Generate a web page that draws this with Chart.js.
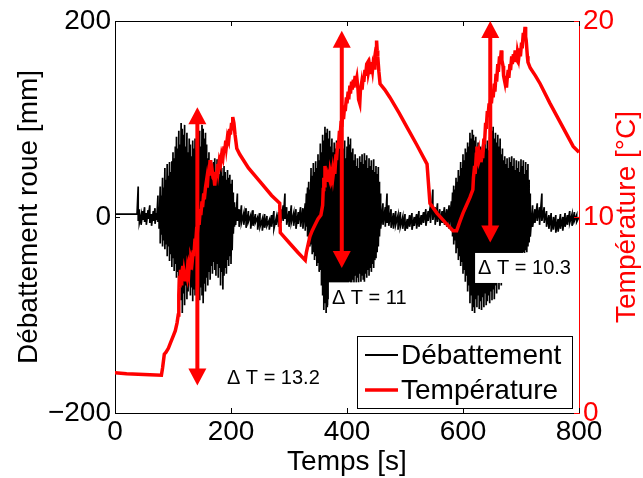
<!DOCTYPE html>
<html><head><meta charset="utf-8">
<script src="https://cdn.jsdelivr.net/npm/chart.js@4/dist/chart.umd.min.js"></script>
<style>html,body{margin:0;padding:0;background:#fff;}canvas{display:block;}</style>
</head><body>
<canvas id="c" width="643" height="478"></canvas>
<script>
// ---- Débattement (wheel travel, mm): time [s] with upper / lower extremes of the vibration ----
const debTime = [
  0,38,40,42,45,48,51,54,57,60,63,66,69,72,74,76,
  78,80,82,84,86,88,90,92,94,96,98,100,102,104,106,108,110,112,114,116,
  118,120,122,124,126,128,130,132,134,136,138,140,142,144,146,148,150,152,154,156,
  158,160,162,164,166,168,170,172,174,176,178,180,182,184,186,188,190,192,194,196,
  198,200,202,204,206,
  208,211,214,218,222,226,230,234,238,242,246,250,254,258,262,266,270,274,278,282,
  286,290,293,296,300,304,308,312,316,320,324,328,
  330,332,334,336,338,340,342,344,346,348,350,352,354,356,358,360,362,364,366,368,
  370,372,374,376,378,380,382,384,386,388,390,392,394,396,398,400,402,404,406,408,
  410,412,414,416,418,420,422,424,426,428,430,432,434,436,438,440,442,444,446,448,
  450,452,454,456,458,
  462,466,469,472,476,480,484,488,492,496,500,504,508,512,516,520,524,528,532,536,
  540,544,548,552,556,560,564,568,572,576,580,
  582,584,586,588,590,592,594,596,598,600,602,604,606,608,610,612,614,616,618,620,
  622,624,626,628,630,632,634,636,638,640,642,644,646,648,650,652,654,656,658,660,
  662,664,666,668,670,672,674,676,678,680,682,684,686,688,690,692,694,696,698,700,
  702,704,706,708,710,712,714,716,
  720,724,728,732,736,740,744,748,752,756,760,764,768,772,776,780,784,788,792,796,800
];
const debHigh = [
  3,3,31,8,2,6,10,4,7,12,3,6,9,4,22,10,
  31,22,40,30,50,38,54,42,56,46,57,66,60,72,82,70,88,74,96,90,
  84,94,72,86,66,80,74,62,78,70,80,68,84,76,88,72,94,90,80,86,
  74,60,66,52,58,48,56,60,46,59,54,44,56,50,42,52,46,38,48,40,
  43,34,38,25,15,
  10,24,8,12,4,9,6,2,7,3,0,4,-2,3,1,-3,2,6,-1,5,
  8,12,24,10,6,12,4,8,5,10,9,14,
  24,30,36,28,50,42,55,46,57,50,64,58,75,66,84,78,92,86,90,80,
  88,72,80,66,76,70,78,64,75,70,74,62,70,78,60,72,82,74,80,66,
  70,58,64,52,60,50,62,56,64,54,65,58,63,50,60,52,58,48,59,46,
  52,44,51,36,24,
  14,10,24,12,8,4,6,2,5,0,3,-2,2,4,0,3,6,2,5,8,
  6,12,28,10,14,8,6,10,8,12,16,
  25,32,28,40,36,48,42,56,50,64,58,70,66,76,72,86,80,89,84,78,
  82,70,76,64,72,60,74,66,78,70,78,68,82,74,88,92,80,86,76,84,
  72,80,64,70,58,62,54,60,50,61,56,62,52,60,48,58,50,57,46,59,
  52,58,44,56,48,54,38,24,
  12,8,14,10,24,10,6,2,4,0,2,-2,3,0,4,2,6,3,5,2,0
];
const debLow = [
  3,3,-4,-6,-8,-3,-5,-8,-2,-6,-9,-4,-7,-3,-5,-12,
  -27,-18,-30,-24,-33,-28,-40,-30,-45,-38,-51,-42,-55,-48,-62,-56,-72,-64,-85,-98,
  -78,-90,-70,-84,-76,-66,-80,-72,-86,-74,-80,-70,-82,-76,-85,-72,-80,-88,-68,-76,
  -62,-70,-56,-64,-50,-58,-46,-54,-60,-48,-62,-52,-70,-56,-74,-60,-52,-58,-44,-50,
  -40,-48,-34,-17,-10,
  -8,-4,-10,-6,-8,-11,-5,-12,-9,-6,-13,-10,-14,-11,-9,-13,-10,-12,-8,-10,
  -6,-4,-2,-8,-10,-6,-9,-12,-7,-10,-12,-14,
  -10,-20,-22,-30,-28,-38,-36,-44,-40,-50,-47,-56,-54,-70,-80,-95,-88,-98,-92,-84,
  -90,-78,-84,-74,-82,-76,-80,-70,-78,-72,-76,-82,-70,-76,-68,-74,-72,-66,-70,-74,
  -64,-70,-60,-68,-62,-67,-58,-66,-60,-64,-66,-58,-62,-54,-60,-52,-56,-48,-52,-44,
  -42,-36,-30,-20,-12,
  -8,-10,-6,-9,-11,-12,-8,-13,-10,-12,-14,-12,-10,-13,-9,-12,-10,-8,-6,-9,
  -4,-6,-3,-8,-5,-9,-6,-8,-10,-12,-14,
  -20,-28,-24,-37,-32,-44,-40,-50,-46,-58,-54,-66,-60,-76,-70,-88,-80,-96,-92,-98,
  -84,-92,-80,-94,-86,-95,-82,-92,-78,-90,-86,-80,-88,-76,-85,-74,-84,-70,-78,-66,
  -74,-64,-70,-60,-66,-58,-62,-54,-60,-50,-58,-52,-56,-48,-54,-44,-50,-40,-46,-38,
  -42,-36,-40,-34,-36,-30,-26,-20,
  -10,-6,-4,-8,-4,-6,-10,-12,-15,-13,-16,-15,-12,-14,-10,-8,-6,-9,-4,-5,0
];

// ---- Température (°C) ----
const tempTime = [
  0,20,40,60,80,82,85,88,92,96,100,104,107,
  109,110,111,112,113,114,115,117,118,119,121,122,124,125,127,128,130,131,133,135,
  136,138,139,141,142,144,145,147,148,150,151,153,154,156,158,159,161,162,164,165,
  167,169,171,172,174,175,177,178,180,182,184,186,188,189,191,192,194,196,198,199,
  201,202,203,205,207,
  210,215,230,250,270,284,285,300,315,328,330,333,336,340,345,350,355,
  358,359,360,361,362,364,365,367,368,370,371,373,375,376,378,379,381,382,384,385,
  387,388,390,391,393,394,396,397,399,400,402,403,405,406,408,409,411,412,414,415,
  417,419,420,422,423,425,426,428,429,431,432,434,436,437,439,441,442,444,445,447,
  448,450,451,452,453,455,457,
  465,474,490,505,520,538,543,555,570,583,589,595,600,606,612,
  617,618,620,621,623,624,625,627,628,630,631,633,634,636,637,639,640,642,643,645,
  646,648,649,651,652,654,655,657,658,660,661,663,664,666,667,669,670,672,673,675,
  676,678,679,681,682,684,685,687,688,690,691,693,694,696,698,699,701,702,704,705,
  707,708,709,711,712,716,
  725,733,750,770,790,800
];
const tempValues = [
  2.05,2.0,1.98,1.95,1.93,2.3,3.0,3.1,3.3,3.6,3.9,4.2,4.6,
  5.0,6.0,7.0,6.4,7.3,6.6,7.1,7.5,6.9,7.2,6.8,7.3,7.0,7.4,7.1,7.6,7.4,7.9,7.7,8.3,
  8.0,8.9,8.6,9.5,9.2,9.9,9.6,10.4,10.1,10.8,10.5,11.2,10.9,11.5,11.9,11.5,12.4,12.1,12.9,12.4,
  12.5,12.0,11.9,11.6,12.3,12.0,12.7,12.4,12.9,12.7,13.2,13.0,13.6,13.3,13.9,13.6,14.1,13.9,14.5,14.2,
  14.8,14.5,15.1,14.8,14.2,
  13.5,13.2,12.5,11.8,11.1,10.7,9.2,8.7,8.2,7.8,8.2,8.6,9.0,9.3,9.6,9.9,10.1,
  10.6,11.4,12.0,11.6,12.6,12.0,12.4,11.8,12.1,11.9,12.3,12.0,12.4,12.1,12.6,12.2,13.2,12.9,13.8,13.5,
  14.4,14.1,14.9,14.6,15.4,15.0,15.7,15.4,16.1,15.8,16.4,16.0,16.7,16.3,16.9,16.5,17.0,16.6,17.2,16.8,
  17.1,16.5,16.0,15.8,16.4,16.8,16.5,17.2,16.9,17.5,17.2,17.8,17.9,17.4,17.7,17.3,17.9,17.5,17.8,17.6,
  18.2,18.6,19.0,18.5,18.2,17.4,16.8,
  16.5,16.1,15.3,14.5,13.7,12.7,10.7,10.2,9.7,9.3,9.3,9.8,10.2,10.6,11.0,
  11.4,12.0,12.6,12.2,13.2,13.6,13.0,13.3,12.9,13.1,12.8,13.2,13.0,14.0,13.7,14.8,14.5,15.4,15.1,15.8,
  15.5,16.1,15.8,16.5,16.1,16.8,16.4,17.3,16.9,17.8,17.4,18.2,17.8,18.5,18.0,17.7,17.2,16.9,17.2,16.6,
  17.0,17.5,17.1,17.8,17.5,18.2,17.8,18.3,17.9,18.5,18.1,18.0,18.4,18.1,18.6,18.2,18.9,18.6,19.4,19.0,
  19.7,19.2,19.0,18.2,17.9,17.6,
  17.2,16.8,15.8,14.7,13.6,13.3
];

// ---- ΔT arrows (time, low / high temperature) and their labels ----
const arrowTime = [142, 391, 647];
const arrowLow  = [1.4, 7.4, 8.7];
const arrowHigh = [15.6, 19.5, 20.0];
const dtLabels    = ['\u0394 T = 13.2', '\u0394 T = 11', '\u0394 T = 10.3'];
const dtLabelTime = [193, 374, 626];
const dtLabelTemp = [1.8, 5.9, 7.4];

const xTicks = [0, 200, 400, 600, 800];
const yTicks = [-200, 0, 200];
const tTicks = [0, 10, 20];

const FONT = "'Liberation Sans', Arial, Helvetica, sans-serif";

const debPoints = [];
debTime.forEach((t, i) => {
  debPoints.push({x: t, y: debHigh[i]});
  if (debLow[i] !== debHigh[i]) debPoints.push({x: t, y: debLow[i]});
});
const tempPoints = tempTime.map((t, i) => ({x: t, y: tempValues[i]}));

const overlay = {
  id: 'overlay',
  afterDraw(chart) {
    const {ctx, chartArea: a, scales} = chart;
    const xs = scales.x, ys = scales.y, ts = scales.yT;
    ctx.save();
    ctx.strokeStyle = '#000'; ctx.lineWidth = 1;
    ctx.beginPath(); ctx.moveTo(a.left, a.top + 0.5); ctx.lineTo(a.right, a.top + 0.5); ctx.stroke();
    xTicks.forEach(v => {
      const px = Math.round(xs.getPixelForValue(v)) + 0.5;
      ctx.beginPath();
      ctx.moveTo(px, a.bottom); ctx.lineTo(px, a.bottom - 5);
      ctx.moveTo(px, a.top); ctx.lineTo(px, a.top + 5);
      ctx.stroke();
    });
    yTicks.forEach(v => {
      const py = Math.round(ys.getPixelForValue(v)) + 0.5;
      ctx.beginPath(); ctx.moveTo(a.left, py); ctx.lineTo(a.left + 5, py); ctx.stroke();
    });
    ctx.strokeStyle = '#ff0000';
    tTicks.forEach(v => {
      const py = Math.round(ts.getPixelForValue(v)) + 0.5;
      ctx.beginPath(); ctx.moveTo(a.right, py); ctx.lineTo(a.right - 5, py); ctx.stroke();
    });

    ctx.font = '20px ' + FONT;
    ctx.textBaseline = 'middle'; ctx.textAlign = 'left';
    dtLabels.forEach((txt, i) => {
      const px = xs.getPixelForValue(dtLabelTime[i]);
      const py = ts.getPixelForValue(dtLabelTemp[i]);
      const w = ctx.measureText(txt).width;
      ctx.save();
      ctx.beginPath(); ctx.rect(a.left + 1, a.top + 1, a.right - a.left - 2, a.bottom - a.top - 2); ctx.clip();
      ctx.fillStyle = '#fff';
      ctx.fillRect(px - 3, py - 15, w + 5, 30);
      ctx.restore();
      ctx.fillStyle = '#000';
      ctx.fillText(txt, px, py + 1);
    });

    ctx.fillStyle = '#ff0000'; ctx.strokeStyle = '#ff0000'; ctx.lineWidth = 4;
    arrowTime.forEach((t, i) => {
      const px = xs.getPixelForValue(t);
      const yl = ts.getPixelForValue(arrowLow[i]);
      const yh = ts.getPixelForValue(arrowHigh[i]);
      const hh = 17, hw = 9;
      ctx.beginPath(); ctx.moveTo(px, yh + hh - 2); ctx.lineTo(px, yl - hh + 2); ctx.stroke();
      ctx.beginPath(); ctx.moveTo(px, yh); ctx.lineTo(px - hw, yh + hh); ctx.lineTo(px + hw, yh + hh); ctx.closePath(); ctx.fill();
      ctx.beginPath(); ctx.moveTo(px, yl); ctx.lineTo(px - hw, yl - hh); ctx.lineTo(px + hw, yl - hh); ctx.closePath(); ctx.fill();
    });

    const lx = 357.5, ly = 336.5, lw = 215, lh = 72;
    ctx.fillStyle = '#fff'; ctx.fillRect(lx, ly, lw, lh);
    ctx.strokeStyle = '#000'; ctx.lineWidth = 1; ctx.strokeRect(lx, ly, lw, lh);
    ctx.font = '28px ' + FONT; ctx.textBaseline = 'middle'; ctx.textAlign = 'left';
    const rowY = [355, 390];
    [0, 1].forEach(r => {
      const ds = chart.data.datasets[r];
      ctx.strokeStyle = ds.borderColor; ctx.lineWidth = r === 0 ? 2 : 3.5;
      ctx.beginPath(); ctx.moveTo(365, rowY[r]); ctx.lineTo(398, rowY[r]); ctx.stroke();
      ctx.fillStyle = '#000';
      ctx.fillText(ds.label, 401, rowY[r] + 1);
    });

    ctx.save();
    ctx.translate(627, (a.top + a.bottom) / 2);
    ctx.rotate(-Math.PI / 2);
    ctx.fillStyle = '#ff0000'; ctx.textAlign = 'center'; ctx.textBaseline = 'middle';
    ctx.fillText('Température [°C]', 0, 0);
    ctx.restore();
    ctx.restore();
  }
};

new Chart(document.getElementById('c'), {
  type: 'line',
  data: {
    datasets: [
      { label: 'Débattement', data: debPoints, xAxisID: 'x', yAxisID: 'y',
        borderColor: '#000000', borderWidth: 1.7, pointRadius: 0, tension: 0, order: 1 },
      { label: 'Température', data: tempPoints, xAxisID: 'x', yAxisID: 'yT',
        borderColor: '#ff0000', borderWidth: 3.5, pointRadius: 0, tension: 0, order: 0 }
    ]
  },
  options: {
    responsive: false, animation: false, devicePixelRatio: 1,
    parsing: false, normalized: true,
    layout: { padding: { top: 21, left: 0, right: 0, bottom: 0 } },
    plugins: { legend: { display: false }, tooltip: { enabled: false } },
    scales: {
      x: {
        type: 'linear', position: 'bottom', min: 0, max: 800,
        afterBuildTicks: s => { s.ticks = xTicks.map(v => ({value: v})); },
        afterFit: s => { s.height = 65; },
        grid: { display: false, drawTicks: false },
        border: { display: true, color: '#000', width: 1 },
        ticks: { color: '#000', font: { family: FONT, size: 28 }, padding: 2, maxRotation: 0, autoSkip: false },
        title: { display: true, text: 'Temps [s]', color: '#000', font: { family: FONT, size: 28, lineHeight: 1 }, padding: { top: 0, bottom: 2 } }
      },
      y: {
        type: 'linear', position: 'left', min: -200, max: 200,
        afterBuildTicks: s => { s.ticks = yTicks.map(v => ({value: v})); },
        afterFit: s => { s.width = 115; },
        grid: { display: false, drawTicks: false },
        border: { display: true, color: '#000', width: 1 },
        ticks: { color: '#000', font: { family: FONT, size: 28 }, padding: 4,
                 callback: v => String(v).replace('-', '\u2212') },
        title: { display: true, text: 'Débattement roue [mm]', color: '#000', font: { family: FONT, size: 28, lineHeight: 1 }, padding: { top: 15, bottom: 0 } }
      },
      yT: {
        type: 'linear', position: 'right', min: 0, max: 20,
        afterBuildTicks: s => { s.ticks = tTicks.map(v => ({value: v})); },
        afterFit: s => { s.width = 64; },
        grid: { display: false, drawTicks: false },
        border: { display: true, color: '#ff0000', width: 1 },
        ticks: { color: '#ff0000', font: { family: FONT, size: 28 }, padding: 4 }
      }
    }
  },
  plugins: [overlay]
});
</script>
</body></html>
